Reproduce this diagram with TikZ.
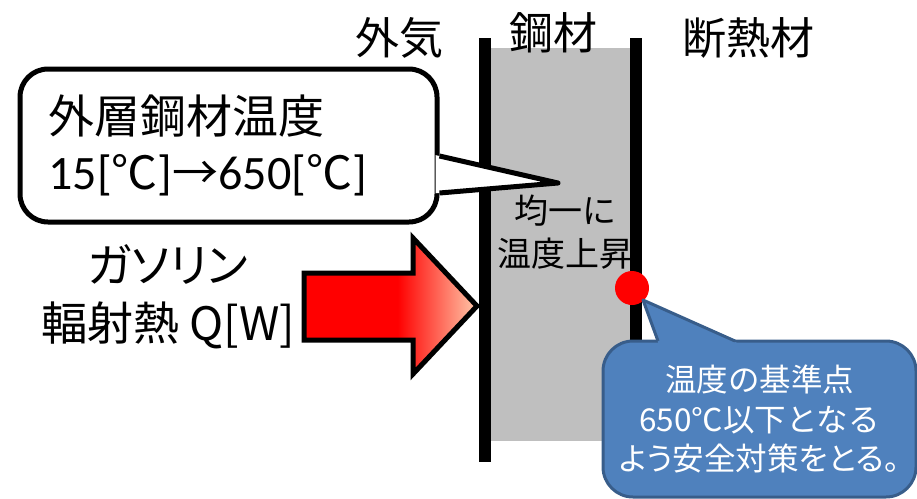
\documentclass[tikz,border=0pt]{standalone}
\usepackage{fontspec}
\setmainfont{Noto Sans CJK JP}
\newfontfamily\cjkp[RawFeature=+palt]{Noto Sans CJK JP}
\newfontfamily\latn{Carlito}
\usetikzlibrary{calc}
\definecolor{steelgray}{RGB}{191,191,191}
\definecolor{boxblue}{RGB}{79,129,189}
\definecolor{boxborder}{RGB}{56,93,138}
\definecolor{peach}{RGB}{255,200,170}
\pgfdeclarehorizontalshading{heatshade}{100bp}{color(0bp)=(red); color(25bp)=(red); color(52bp)=(red); color(75bp)=(peach); color(100bp)=(peach)}
\begin{document}
\begin{tikzpicture}[x=1pt,y=-1pt,
  lbl/.style={font=\fontsize{44}{50}\selectfont, inner sep=0pt},
  wallbar/.style={line width=12pt},
  whitecallout/.style={draw, line width=5pt, fill=white, rounded corners=28pt,
    minimum width=417pt, minimum height=153pt, inner sep=0pt,
    align=left, text width=360pt, font=\fontsize{46}{56}\selectfont},
  bluecallout/.style={draw=boxborder, fill=boxblue, line width=3pt, rounded corners=30pt,
    minimum width=313pt, minimum height=156pt, inner sep=0pt, text=white,
    align=center, font=\fontsize{31.5}{39.5}\selectfont},
]
\useasboundingbox (0,0) rectangle (917,498);

% steel plate
\node[fill=steelgray, minimum width=146pt, minimum height=393pt, inner sep=0pt] (steel) at (559,244.5) {};
\draw[wallbar] (484.5,38) -- (484.5,462);
\draw[wallbar] (635.5,38) -- (635.5,441);

% top labels
\node[lbl] (air) at (399,38) {外気};
\node[lbl] (steellbl) at (553,33) {鋼材};
\node[lbl] (insul) at (748,38) {断熱材};

% text inside steel
\node[font=\fontsize{34}{43}\selectfont, align=center, inner sep=0pt] (uni) at (565,232) {均一に\\温度上昇};

% white callout
\node[whitecallout] (c1) at (228.5,145.5) {外層鋼材温度\\{\latn\fontsize{48}{56}\selectfont 15[}℃{\latn\fontsize{48}{56}\selectfont ]}→{\latn\fontsize{48}{56}\selectfont 650[}℃{\latn\fontsize{48}{56}\selectfont ]}};
\coordinate (tip1) at (558,183);
\fill[white] ($(c1.east)+(-4,9.6)$) -- (tip1) -- ($(c1.east)+(-4,47.8)$) -- cycle;
\draw[line width=5pt, line join=round] ($(c1.east)+(0,10.5)$) -- (tip1) -- ($(c1.east)+(0,47.5)$);

% heat arrow
\shadedraw[shading=heatshade, draw=black, line width=5pt, line join=miter]
  (304,273) -- (413,273) -- (413,238) -- (477,306) -- (413,374) -- (413,340) -- (304,340) -- cycle;

% gasoline label
\node[font=\fontsize{46}{58}\selectfont, align=center, inner sep=0pt] (gas) at (168,297) {{\cjkp ガソリン}\\輻射熱 Q[W]};

% reference point
\node[circle, fill=red, minimum size=34pt, inner sep=0pt] (pt) at (632,288) {};

% blue callout
\node[bluecallout] (c2) at (759.5,419) {温度の基準点\\650℃以下となる\\{\cjkp よう安全対策をとる。}};
\coordinate (tip2) at (643,300);
\fill[boxblue] (tip2) -- (741.6,345) -- (659,345) -- cycle;
\draw[boxborder, line width=3pt, line join=round] (658,341) -- (tip2) -- (735,341);
\end{tikzpicture}
\end{document}
